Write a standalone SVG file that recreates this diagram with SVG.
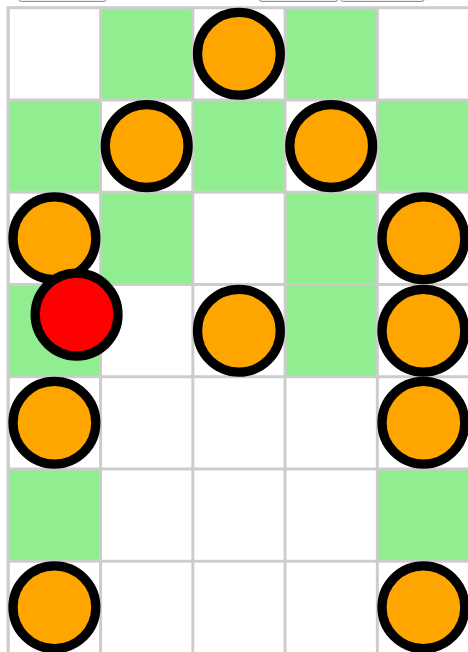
<svg xmlns="http://www.w3.org/2000/svg" width="468" height="652" viewBox="0 0 468 652">
<style>
.btn{fill:#f0f0f0;stroke:#8f8f8f;stroke-width:1}
.w{fill:#ffffff}
.g{fill:#90ee90}
.o{fill:#ffa500;stroke:#000;stroke-width:9.3}
.r{fill:#ff0000;stroke:#000;stroke-width:9.3}
</style>
<rect width="468" height="652" fill="#ffffff"/>
<g id="buttons">
<rect class="btn" x="18.5" y="-10" width="88" height="11.5" rx="3"/>
<rect class="btn" x="259" y="-10" width="79" height="11.5" rx="3"/>
<rect class="btn" x="340.5" y="-10" width="84" height="11.5" rx="3"/>
</g>
<g id="board">
<rect x="6.6" y="6.2" width="470" height="660" fill="#cccccc"/>
<!-- row 0 -->
<rect class="w" x="9.8" y="9.2" width="89.3" height="89.3"/>
<rect class="g" x="102.05" y="9.2" width="89.3" height="89.3"/>
<rect class="w" x="194.3" y="9.2" width="89.3" height="89.3"/>
<rect class="g" x="286.55" y="9.2" width="89.3" height="89.3"/>
<rect class="w" x="378.8" y="9.2" width="89.3" height="89.3"/>
<!-- row 1 -->
<rect class="g" x="9.8" y="101.45" width="89.3" height="89.3"/>
<rect class="w" x="102.05" y="101.45" width="89.3" height="89.3"/>
<rect class="g" x="194.3" y="101.45" width="89.3" height="89.3"/>
<rect class="w" x="286.55" y="101.45" width="89.3" height="89.3"/>
<rect class="g" x="378.8" y="101.45" width="89.3" height="89.3"/>
<!-- row 2 -->
<rect class="w" x="9.8" y="193.7" width="89.3" height="89.3"/>
<rect class="g" x="102.05" y="193.7" width="89.3" height="89.3"/>
<rect class="w" x="194.3" y="193.7" width="89.3" height="89.3"/>
<rect class="g" x="286.55" y="193.7" width="89.3" height="89.3"/>
<rect class="w" x="378.8" y="193.7" width="89.3" height="89.3"/>
<!-- row 3 -->
<rect class="g" x="9.8" y="285.95" width="89.3" height="89.3"/>
<rect class="w" x="102.05" y="285.95" width="89.3" height="89.3"/>
<rect class="w" x="194.3" y="285.95" width="89.3" height="89.3"/>
<rect class="g" x="286.55" y="285.95" width="89.3" height="89.3"/>
<rect class="w" x="378.8" y="285.95" width="89.3" height="89.3"/>
<!-- row 4 -->
<rect class="w" x="9.8" y="378.2" width="89.3" height="89.3"/>
<rect class="w" x="102.05" y="378.2" width="89.3" height="89.3"/>
<rect class="w" x="194.3" y="378.2" width="89.3" height="89.3"/>
<rect class="w" x="286.55" y="378.2" width="89.3" height="89.3"/>
<rect class="w" x="378.8" y="378.2" width="89.3" height="89.3"/>
<!-- row 5 -->
<rect class="g" x="9.8" y="470.45" width="89.3" height="89.3"/>
<rect class="w" x="102.05" y="470.45" width="89.3" height="89.3"/>
<rect class="w" x="194.3" y="470.45" width="89.3" height="89.3"/>
<rect class="w" x="286.55" y="470.45" width="89.3" height="89.3"/>
<rect class="g" x="378.8" y="470.45" width="89.3" height="89.3"/>
<!-- row 6 -->
<rect class="w" x="9.8" y="562.7" width="89.3" height="89.3"/>
<rect class="w" x="102.05" y="562.7" width="89.3" height="89.3"/>
<rect class="w" x="194.3" y="562.7" width="89.3" height="89.3"/>
<rect class="w" x="286.55" y="562.7" width="89.3" height="89.3"/>
<rect class="w" x="378.8" y="562.7" width="89.3" height="89.3"/>
</g>
<g id="connectors"></g>
<g id="piece-r0c2"><circle class="o" cx="238.9" cy="53.8" r="41.4"/></g>
<g id="piece-r1c1"><circle class="o" cx="146.7" cy="146.1" r="41.4"/></g>
<g id="piece-r1c3"><circle class="o" cx="331.2" cy="146.1" r="41.4"/></g>
<g id="piece-r2c0"><circle class="o" cx="54.4" cy="238.3" r="41.4"/></g>
<g id="piece-r2c4"><circle class="o" cx="423.4" cy="238.3" r="41.4"/></g>
<g id="piece-r3c2"><circle class="o" cx="238.9" cy="330.8" r="41.4"/></g>
<g id="piece-r3c4"><circle class="o" cx="423.4" cy="330.8" r="41.4"/></g>
<g id="piece-r4c0"><circle class="o" cx="54.4" cy="422.8" r="41.4"/></g>
<g id="piece-r4c4"><circle class="o" cx="423.4" cy="422.8" r="41.4"/></g>
<g id="piece-r6c0"><circle class="o" cx="54.4" cy="607.3" r="41.4"/></g>
<g id="piece-r6c4"><circle class="o" cx="423.4" cy="607.3" r="41.4"/></g>
<g id="piece-red"><circle class="r" cx="76.6" cy="314.6" r="41.4"/></g>
</svg>
